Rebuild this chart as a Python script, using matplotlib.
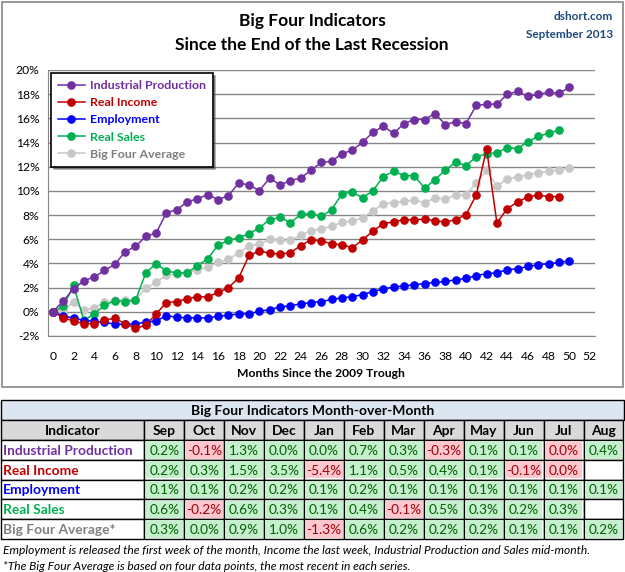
import matplotlib
matplotlib.use("Agg")
import matplotlib.pyplot as plt
from matplotlib.patches import Rectangle

## DATA
months = list(range(51))
industrial = [0, 0.88, 1.9, 2.57, 2.87, 3.42, 3.92, 4.97, 5.41, 6.24,
              6.51, 8.2, 8.45, 9.08, 9.36, 9.69, 9.28, 9.61, 10.65, 10.49,
              10.02, 11.07, 10.49, 10.85, 11.07, 11.7, 12.35, 12.45, 13.09, 13.36,
              14.03, 14.85, 15.35, 14.75, 15.57, 15.9, 15.9, 16.4, 15.49, 15.71,
              15.57, 17.07, 17.17, 17.17, 17.98, 18.23, 17.81, 17.98, 18.17, 18.06,
              18.56]
income = [0, -0.47, -0.78, -0.97, -0.97, -0.69, -0.53, -1.0, -1.36, -1.11,
          -0.17, 0.77, 0.85, 1.08, 1.24, 1.24, 1.6, 1.99, 2.82, 4.66,
          5.02, 4.86, 4.77, 4.89, 5.47, 5.96, 5.85, 5.63, 5.55, 5.3,
          5.96, 6.68, 7.29, 7.45, 7.62, 7.62, 7.67, 7.54, 7.42, 7.62,
          8.03, 9.66, 13.5, 7.34, 8.53, 9.08, 9.5, 9.66, 9.53, 9.53]
employment = [0, -0.36, -0.5, -0.72, -0.78, -0.86, -1.03, -1.03, -1.0, -0.86,
              -0.75, -0.33, -0.44, -0.5, -0.5, -0.5, -0.36, -0.28, -0.17, -0.17,
              0.05, 0.17, 0.41, 0.5, 0.66, 0.77, 0.85, 1.02, 1.16, 1.24,
              1.43, 1.68, 1.9, 2.04, 2.15, 2.24, 2.34, 2.43, 2.51, 2.65,
              2.76, 3.0, 3.15, 3.23, 3.48, 3.56, 3.75, 3.89, 3.98, 4.08,
              4.22]
sales = [0, 0.44, 2.18, -0.69, -0.2, 0.55, 0.91, 0.85, 0.94, 3.23,
         3.98, 3.36, 3.23, 3.23, 3.81, 4.39, 5.52, 5.91, 6.13, 6.46,
         6.96, 7.62, 7.81, 7.37, 8.05, 8.12, 7.9, 8.45, 9.78, 9.88,
         9.44, 10.02, 11.18, 11.62, 11.27, 11.27, 10.21, 10.94, 11.71, 12.37,
         12.1, 12.81, 13.09, 13.14, 13.59, 13.5, 14.08, 14.5, 14.77, 15.02]
average = [0, 0.17, 0.8, 0.17, 0.33, 0.8, 0.94, 1.0, 1.0, 1.96,
           2.45, 3.03, 3.12, 3.3, 3.42, 3.7, 4.08, 4.33, 4.89, 5.44,
           5.58, 5.99, 5.9, 5.9, 6.35, 6.7, 6.87, 7.07, 7.4, 7.5,
           7.79, 8.34, 8.95, 9.0, 9.14, 9.25, 9.03, 9.41, 9.33, 9.66,
           9.66, 10.69, 11.71, 10.38, 11.02, 11.15, 11.32, 11.52, 11.62, 11.71,
           11.9]

## table data (month-over-month, %); None = not yet released, -0.0 = small negative
table_months = ["Sep", "Oct", "Nov", "Dec", "Jan", "Feb", "Mar", "Apr", "May", "Jun", "Jul", "Aug"]
table_rows = ["Industrial Production", "Real Income", "Employment", "Real Sales", "Big Four Average*"]
mom_industrial = [0.2, -0.1, 1.3, 0.0, 0.0, 0.7, 0.3, -0.3, 0.1, 0.1, -0.0, 0.4]
mom_income = [0.2, 0.3, 1.5, 3.5, -5.4, 1.1, 0.5, 0.4, 0.1, -0.1, -0.0, None]
mom_employment = [0.1, 0.1, 0.2, 0.2, 0.1, 0.2, 0.1, 0.1, 0.1, 0.1, 0.1, 0.1]
mom_sales = [0.6, -0.2, 0.6, 0.3, 0.1, 0.4, -0.1, 0.5, 0.3, 0.2, 0.3, None]
mom_average = [0.3, 0.0, 0.9, 1.0, -1.3, 0.6, 0.2, 0.2, 0.2, 0.1, 0.1, 0.2]

## colours
PURPLE = "#7030A0"
RED = "#C00000"
BLUE = "#0000FF"
GREEN = "#00B050"
GRAY = "#C8C8C8"
GRAY_TEXT = "#7F7F7F"
GRID = "#868686"

plt.rcParams["font.family"] = ["Lato", "DejaVu Sans"]

W, H = 625, 572
fig = plt.figure(figsize=(W / 100, H / 100), dpi=100)

# background axes in pixel coordinates for borders, titles and table
bg = fig.add_axes([0, 0, 1, 1])
bg.set_xlim(0, W)
bg.set_ylim(H, 0)
bg.axis("off")

# chart border
bg.add_patch(Rectangle((1.5, 1.5), 621, 385, fill=False, edgecolor=GRID, linewidth=1.2))
bg.text(312, 21, "Big Four Indicators", ha="center", va="center", fontsize=12.5, fontweight="bold")
bg.text(312, 45, "Since the End of the Last Recession", ha="center", va="center", fontsize=12.5, fontweight="bold")
bg.text(613, 17, "dshort.com", ha="right", va="center", fontsize=8.5, fontweight="bold", color="#1F497D")
bg.text(613, 34, "September 2013", ha="right", va="center", fontsize=8.5, fontweight="bold", color="#1F497D")

## main plot
left, right, top, bottom = 47.7, 595, 70, 336
ax = fig.add_axes([left / W, (H - bottom) / H, (right - left) / W, (bottom - top) / H])
ax.set_xlim(-0.5, 52.5)
ax.set_ylim(-2, 20)
ax.set_yticks(range(-2, 21, 2))
ax.set_yticklabels([f"{v}%" for v in range(-2, 21, 2)])
ax.set_xticks(range(0, 53, 2))
ax.grid(axis="y", color=GRID, linewidth=1)
ax.set_axisbelow(True)
for s in ["top", "right"]:
    ax.spines[s].set_visible(False)
ax.spines["left"].set_color(GRID)
ax.spines["bottom"].set_color(GRID)
ax.tick_params(length=0, labelsize=8.7, pad=6)
ax.tick_params(axis="x", pad=11)
ax.set_xlabel("Months Since the 2009 Trough", fontsize=8.7, fontweight="bold", labelpad=4)

style = dict(marker="o", markersize=5.2, linewidth=1.1)
l_avg, = ax.plot(months[:len(average)], average, color=GRAY, **style)
l_sales, = ax.plot(months[:len(sales)], sales, color=GREEN, **style)
l_emp, = ax.plot(months[:len(employment)], employment, color=BLUE, **style)
l_inc, = ax.plot(months[:len(income)], income, color=RED, **style)
l_ip, = ax.plot(months[:len(industrial)], industrial, color=PURPLE, **style)

leg = ax.legend([l_ip, l_inc, l_emp, l_sales, l_avg],
                ["Industrial Production", "Real Income", "Employment", "Real Sales", "Big Four Average"],
                loc="upper left", bbox_to_anchor=(0.006, 0.988), borderaxespad=0,
                fancybox=False, shadow=True, edgecolor="black", framealpha=1,
                prop={"size": 8.9, "weight": "bold"}, handlelength=2.2, labelspacing=0.5,
                handletextpad=0.4, borderpad=0.55,
                labelcolor=[PURPLE, RED, BLUE, GREEN, GRAY_TEXT])
leg.get_frame().set_linewidth(1.2)

## table
x0, x_ind, x1 = 1, 144.3, 623.5
col_w = (x1 - x_ind) / len(table_months)
y_title, y_head, y_rows = 399.5, 420, 440
row_h = 19.8
bg.add_patch(Rectangle((x0, y_title), x1 - x0, y_head - y_title, facecolor="#DCE6F1", edgecolor="black", linewidth=1))
bg.text((x0 + x1) / 2, (y_title + y_head) / 2 + 1, "Big Four Indicators Month-over-Month",
        ha="center", va="center", fontsize=10, fontweight="bold")
bg.add_patch(Rectangle((x0, y_head), x_ind - x0, y_rows - y_head, facecolor="#D9D9D9", edgecolor="black", linewidth=1))
bg.text((x0 + x_ind) / 2, (y_head + y_rows) / 2 + 1, "Indicator", ha="center", va="center", fontsize=10, fontweight="bold")
for j, m in enumerate(table_months):
    cx = x_ind + j * col_w
    bg.add_patch(Rectangle((cx, y_head), col_w, y_rows - y_head, facecolor="#D9D9D9", edgecolor="black", linewidth=1))
    bg.text(cx + col_w / 2, (y_head + y_rows) / 2 + 1, m, ha="center", va="center", fontsize=10, fontweight="bold")

row_values = [mom_industrial, mom_income, mom_employment, mom_sales, mom_average]
row_colors = [PURPLE, RED, BLUE, GREEN, GRAY_TEXT]
for i, (name, vals, c) in enumerate(zip(table_rows, row_values, row_colors)):
    ry = y_rows + i * row_h
    bg.add_patch(Rectangle((x0, ry), x_ind - x0, row_h, facecolor="white", edgecolor="black", linewidth=1))
    bg.text(x0 + 2, ry + row_h / 2 + 1, name, ha="left", va="center", fontsize=9.9, fontweight="bold", color=c)
    for j, v in enumerate(vals):
        cx = x_ind + j * col_w
        bg.add_patch(Rectangle((cx, ry), col_w, row_h, facecolor="white", edgecolor="black", linewidth=1))
        if v is None:
            continue
        neg = v < 0 or (v == 0 and str(v).startswith("-"))
        bg.add_patch(Rectangle((cx + 1.2, ry + 1.2), col_w - 2.4, row_h - 2.4,
                               facecolor="#FFC7CE" if neg else "#C6EFCE", edgecolor="none"))
        label = f"{abs(v):.1f}%" if v == 0 else f"{v:.1f}%"
        bg.text(cx + col_w / 2, ry + row_h / 2 + 1, label, ha="center", va="center", fontsize=9.8,
                color="#9C0006" if neg else "#006100")

bg.text(3, 551, "Employment is released the first week of the month, Income the last week, Industrial Production and Sales mid-month.",
        ha="left", va="center", fontsize=8.65, style="italic")
bg.text(3, 567, "*The Big Four Average is based on four data points, the most recent in each series.",
        ha="left", va="center", fontsize=8.65, style="italic")

fig.savefig("out.png", dpi=100)
